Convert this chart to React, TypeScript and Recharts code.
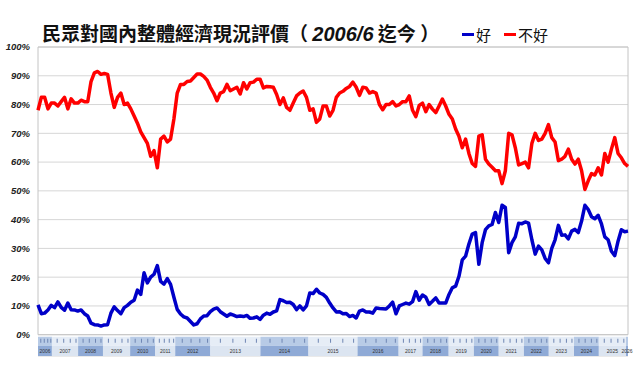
import { LineChart, Line, XAxis, YAxis, CartesianGrid, ReferenceArea, ReferenceLine } from 'recharts';

// survey-by-survey shares (%) left to right
const bad = [
  78, 82.5, 82.5, 78.5, 80.5, 80.5, 79.5, 81, 82.5, 78.5,
  82, 80.5, 80.5, 81.5, 81, 81, 88, 91, 91.5, 90.5,
  90.8, 90.5, 84, 79, 82.5, 84, 80, 80.5, 78.5, 76,
  73.5, 70.5, 68.5, 66.5, 62, 64, 58, 68, 69, 67,
  68, 75, 84, 87, 87, 88, 88.2, 89.4, 90.6, 90.6,
  89.8, 88.5, 86, 84, 81.3, 84, 84.5, 87, 84.8, 85.4,
  86, 83.7, 87.6, 85.4, 87.6, 87.8, 88.8, 88.8, 85.8, 86.3,
  86.2, 86, 83.5, 80, 82.3, 79, 78, 80.5, 83, 84,
  84.7, 82.5, 78, 78.5, 73.8, 75, 79.5, 79.5, 76, 78,
  82.5, 84, 84.6, 85.6, 86.3, 87.8, 86, 83.2, 86, 85.8,
  84, 84.5, 84, 80, 78.2, 80, 80, 81, 79.5, 80,
  81, 81, 83, 78, 75.8, 79.7, 80.5, 77.5, 80, 78.4,
  77.2, 79.5, 81.9, 79.5, 76.6, 75, 71.5, 69, 65, 68,
  63, 59.5, 58.5, 69, 69.5, 61, 59.3, 58.2, 57, 57,
  52.5, 57, 70, 69.5, 65, 59, 59.5, 60, 58, 66.5,
  70, 67.5, 68, 70, 73, 68.5, 67, 60.5, 61, 62,
  64.5, 61, 59.3, 61, 57, 50.5, 53.5, 56, 55.5, 58,
  55.5, 63, 60, 64.5, 68.5, 63, 61.5, 59.5, 58.5,
];

const good = [
  10.4, 7.3, 7.5, 8.6, 10.2, 9.4, 11.4, 9.5, 8.5, 11,
  8.7, 8.6, 8.2, 8.6, 7.3, 6.5, 4, 3.5, 3.4, 3,
  3.4, 3.5, 7.5, 9.7, 8.4, 7.3, 9.4, 10.2, 11.3, 12,
  15.5, 14, 21.5, 18, 20, 21, 24, 18.5, 17.6, 19.5,
  17.5, 13, 8.8, 7.2, 6.2, 5.8, 4.6, 3.4, 3.8, 5.5,
  6.5, 6.6, 8, 8.9, 9.3, 8, 7.2, 6.4, 7.2, 6.8,
  6.3, 6.5, 6.3, 6.7, 5.7, 5.8, 6.2, 5.3, 6.8, 7.5,
  7.1, 7.9, 8.3, 12.2, 11.8, 11.2, 11.3, 10.5, 8.7, 10,
  8.6, 10, 14.5, 14.3, 15.8, 14.5, 14, 13, 11, 9.3,
  7.9, 8, 7.3, 7.4, 6.3, 6.7, 5.8, 8.2, 8.6, 7.9,
  7.9, 7.5, 9.3, 9.1, 9, 8.9, 10, 11.3, 7.3, 10,
  10.5, 11, 10.6, 11.5, 15, 12, 13.8, 13, 10.5, 11.6,
  12.8, 11, 11, 11, 14, 16.3, 16.9, 20.3, 26, 27.3,
  31.5, 35, 35.5, 24.5, 32, 36.5, 37.8, 38.3, 42.5, 39,
  45, 44.2, 28.5, 32, 34, 38.7, 38.6, 39.2, 38.8, 33,
  28, 30.8, 29.5, 26.5, 25, 30, 33, 38, 34.6, 34.7,
  33.3, 36, 36.6, 35.5, 39.5, 45, 43.5, 41, 40.3, 41.5,
  38.5, 34, 33, 29, 27.5, 32.5, 36.5, 35.8, 36,
];

// year bands along the bottom, in survey-index units
const years = [
  '2006', '2007', '2008', '2009', '2010', '2011', '2012', '2013', '2014', '2015', '2016',
  '2017', '2018', '2019', '2020', '2021', '2022', '2023', '2024', '2025', '2026',
];
const yearEdges = [
  0, 4.2, 12.1, 19.6, 27.8, 35.4, 41.4, 52, 67.1, 81.6, 96.4,
  108.8, 116, 123.9, 131.5, 139, 146.6, 154.1, 161.7, 169.2, 177.4, 178,
];

const yTicks = [0, 10, 20, 30, 40, 50, 60, 70, 80, 90, 100];

const data = good.map((g, i) => ({ i, good: g, bad: bad[i] }));
const lastIdx = data.length - 1;

// small quarter marks in the upper strip of each year band
const quarterMarks: number[] = [];
years.forEach((_, k) => {
  const a = yearEdges[k];
  const b = yearEdges[k + 1];
  if (b - a < 3) return;
  [0.2, 0.45, 0.7, 0.92].forEach((f) => quarterMarks.push(a + (b - a) * f));
});

export default function App() {
  return (
    <div style={{ position: 'absolute', left: 0, top: 0, width: 640, height: 375, background: '#fff', fontFamily: '"Liberation Sans", Arial, sans-serif' }}>
      <div
        style={{
          position: 'absolute', left: 42, top: 20, whiteSpace: 'nowrap',
          fontFamily: '"Noto Sans CJK TC", sans-serif', fontWeight: 700, fontSize: 19, lineHeight: '26px', color: '#111',
        }}
      >
        民眾對國內整體經濟現況評價（ <span style={{ fontFamily: '"Liberation Sans", Arial, sans-serif', fontStyle: 'italic', fontSize: 20 }}>2006/6</span> 迄今 ）
      </div>

      <div style={{ position: 'absolute', left: 462, top: 24, display: 'flex', alignItems: 'center', fontFamily: '"Noto Sans CJK TC", sans-serif', fontSize: 15, color: '#111' }}>
        <span style={{ width: 12, height: 3, background: '#0000c8', marginRight: 2 }} />
        <span>好</span>
        <span style={{ width: 12, height: 3, background: '#ff0000', marginLeft: 13, marginRight: 2 }} />
        <span>不好</span>
      </div>

      <LineChart width={640} height={375} data={data} margin={{ top: 47, right: 12, bottom: 19, left: 0 }}>
        <XAxis type="number" dataKey="i" domain={[0, lastIdx]} hide />
        <YAxis
          domain={[-7.4, 100]}
          ticks={yTicks}
          allowDataOverflow
          width={38}
          axisLine={false}
          tickLine={false}
          tickSize={0}
          tickMargin={8}
          tickFormatter={(v: number) => `${v}%`}
          tick={{ fontSize: 9.5, fontWeight: 700, fontStyle: 'italic', fill: '#222' }}
        />
        <CartesianGrid vertical={false} stroke="#d6d6d6" strokeWidth={1} />
        {years.map((y, k) => (
          <ReferenceArea
            key={'u' + y}
            x1={yearEdges[k]}
            x2={yearEdges[k + 1]}
            y1={-3.8}
            y2={-0.7}
            fill={k % 2 === 0 ? '#b8cbe6' : '#e6edf6'}
            fillOpacity={1}
            stroke="none"
          />
        ))}
        {years.map((y, k) => (
          <ReferenceArea
            key={'l' + y}
            x1={yearEdges[k]}
            x2={yearEdges[k + 1]}
            y1={-7.4}
            y2={-3.8}
            fill={k % 2 === 0 ? '#8faad6' : '#dce5f1'}
            fillOpacity={1}
            stroke="none"
            label={{ value: y, position: 'center', fontSize: 5, fill: '#333' }}
          />
        ))}
        {quarterMarks.map((m, k) => (
          <ReferenceLine
            key={'q' + k}
            segment={[{ x: m, y: -1.4 }, { x: m, y: -2.8 }]}
            stroke="#6f86b3"
            strokeWidth={1}
          />
        ))}
        <ReferenceArea x1={0} x2={lastIdx} y1={0} y2={100} fill="none" stroke="#c4c4c4" strokeWidth={1} />
        <Line type="linear" dataKey="bad" stroke="#ff0000" strokeWidth={3.5} dot={false} isAnimationActive={false} strokeLinejoin="round" />
        <Line type="linear" dataKey="good" stroke="#0000c8" strokeWidth={3.5} dot={false} isAnimationActive={false} strokeLinejoin="round" />
      </LineChart>
    </div>
  );
}
